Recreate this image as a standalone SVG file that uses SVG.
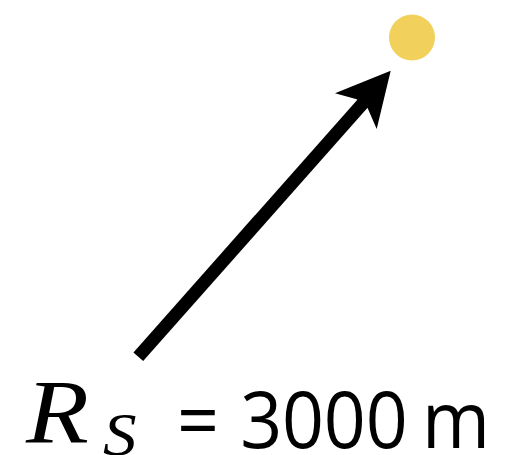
<svg xmlns="http://www.w3.org/2000/svg" width="513" height="455" viewBox="0 0 513 455">
  <style>
    .math { font-family: "Liberation Serif", "DejaVu Serif", serif; font-style: italic; fill: #000; }
    .lbl { font-family: "Open Sans", "Noto Sans", sans-serif; fill: #000; }
  </style>
  <rect width="513" height="455" fill="#fff"/>
  <g id="sun">
    <circle cx="412" cy="37.5" r="23" fill="#F1D05B"/>
  </g>
  <g id="connectors">
    <line x1="138.3" y1="356.8" x2="364" y2="102" stroke="#000" stroke-width="13"/>
    <polygon points="390.7,70.7 335,93.3 356.7,99.3 367.7,108.3 376.7,129" fill="#000"/>
  </g>
  <g id="label">
    <text class="math" x="26" y="443" font-size="92" transform="translate(26 0) scale(1.12 1) translate(-26 0)">R</text>
    <text class="math" x="103" y="455" font-size="61" transform="translate(103 0) scale(1.1 1) translate(-103 0)">S</text>
    <g transform="translate(176 0) scale(0.93 1) translate(-176 0)">
      <text class="lbl" x="177 225 245 290 335 380 420 440.6" y="448" font-size="79">= 3000 m</text>
    </g>
  </g>
</svg>
